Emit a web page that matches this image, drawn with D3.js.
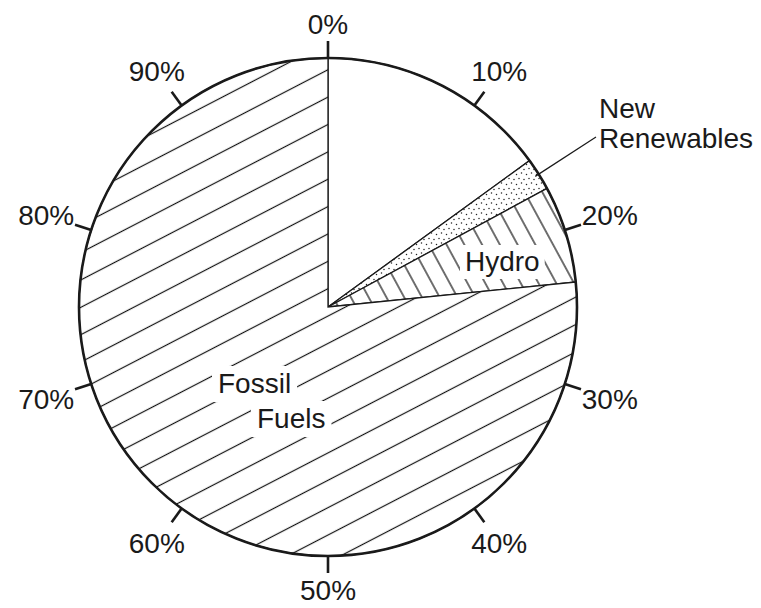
<!DOCTYPE html>
<html>
<head>
<meta charset="utf-8">
<script src="https://cdn.jsdelivr.net/npm/d3@7"></script>
<style>
  body { margin: 0; background: #fff; }
  text { font-family: "Liberation Sans", Arial, sans-serif; fill: #1a1a1a; }
</style>
</head>
<body>
<script>
// data (percent of total)
const categories = ["", "New Renewables", "Hydro", "Fossil Fuels"];
const shares = [15.0, 2.1, 6.3, 76.6];
const tickValues = [0, 10, 20, 30, 40, 50, 60, 70, 80, 90];
const tickLabels = ["0%", "10%", "20%", "30%", "40%", "50%", "60%", "70%", "80%", "90%"];

const W = 761, H = 608;
const cx = 328, cy = 307, r = 249;
const FS = 28;

const svg = d3.select("body").append("svg")
              .attr("width", W)
              .attr("height", H)

const defs = svg.append("defs")

// fossil hatch, rising lines
const fs = 24.3;
const fp = defs.append("pattern")
      .attr("id", "hatchFossil")
      .attr("patternUnits", "userSpaceOnUse")
      .attr("width", 20).attr("height", fs)
      .attr("patternTransform", `translate(${cx},${cy - r}) rotate(-27.4) translate(0,${-fs / 2})`)
fp.append("rect").attr("width", 20).attr("height", fs).attr("fill", "#fff")
fp.append("line").attr("x1", 0).attr("x2", 20).attr("y1", fs / 2).attr("y2", fs / 2)
  .attr("stroke", "#111").attr("stroke-width", 1.2)

// hydro hatch, steep falling lines
const hs = 15.6;
const hp = defs.append("pattern")
      .attr("id", "hatchHydro")
      .attr("patternUnits", "userSpaceOnUse")
      .attr("width", 20).attr("height", hs)
      .attr("patternTransform", `translate(${cx},${cy}) rotate(61.5)`)
hp.append("rect").attr("width", 20).attr("height", hs).attr("fill", "#fff")
hp.append("line").attr("x1", 0).attr("x2", 20).attr("y1", hs / 2).attr("y2", hs / 2)
  .attr("stroke", "#111").attr("stroke-width", 1.2)

// stipple for new renewables
const sp = defs.append("pattern")
      .attr("id", "stipple")
      .attr("patternUnits", "userSpaceOnUse")
      .attr("width", 10).attr("height", 10)
sp.append("rect").attr("width", 10).attr("height", 10).attr("fill", "#fff")
const dots = [[1, 1.5], [6, 2.5], [3.5, 6], [8.5, 7.5]];
sp.selectAll("circle").data(dots).enter().append("circle")
  .attr("cx", d => d[0]).attr("cy", d => d[1]).attr("r", 0.75).attr("fill", "#222")

const fills = ["#fff", "url(#stipple)", "url(#hatchHydro)", "url(#hatchFossil)"];

const g = svg.append("g").attr("transform", `translate(${cx},${cy})`)

const pie = d3.pie().sort(null).value(d => d)
const arc = d3.arc().innerRadius(0).outerRadius(r)
const arcs = pie(shares)

g.selectAll("path.slice")
 .data(arcs)
 .enter()
 .append("path")
 .attr("class", "slice")
 .attr("d", arc)
 .attr("fill", (d, i) => fills[i])
 .attr("stroke", "#1a1a1a")
 .attr("stroke-width", 1.3)
 .attr("stroke-linejoin", "miter")

// outer circle
g.append("circle").attr("r", r).attr("fill", "none").attr("stroke", "#1a1a1a").attr("stroke-width", 2.6)

// ticks around the rim
const tickLen = 17;
const ang = d3.scaleLinear().domain([0, 100]).range([0, 2 * Math.PI])
g.selectAll("line.tick")
 .data(tickValues)
 .enter()
 .append("line")
 .attr("x1", d => r * Math.sin(ang(d)))
 .attr("y1", d => -r * Math.cos(ang(d)))
 .attr("x2", d => (r + tickLen) * Math.sin(ang(d)))
 .attr("y2", d => -(r + tickLen) * Math.cos(ang(d)))
 .attr("stroke", "#1a1a1a")
 .attr("stroke-width", 2.6)

g.selectAll("text.tl")
 .data(tickValues)
 .enter()
 .append("text")
 .attr("class", "tl")
 .attr("font-size", FS)
 .attr("text-anchor", "middle")
 .attr("x", d => (283 + 14 * Math.abs(Math.sin(ang(d)))) * Math.sin(ang(d)))
 .attr("y", d => -(283 + 14 * Math.abs(Math.sin(ang(d)))) * Math.cos(ang(d)) + 10)
 .text((d, i) => tickLabels[i])

// labels with white knockouts
function knockLabel(lines, pad) {
  const t = svg.append("g")
  const texts = lines.map(l => t.append("text")
      .attr("x", l.x).attr("y", l.y).attr("font-size", FS).text(l.s))
  texts.forEach(tx => {
    const b = tx.node().getBBox();
    t.insert("rect", "text")
     .attr("x", b.x - pad).attr("y", b.y - pad + 4)
     .attr("width", b.width + 2 * pad).attr("height", b.height + 2 * pad - 7)
     .attr("fill", "#fff")
  })
}

knockLabel([{ s: categories[2], x: 465, y: 271 }], 5)
knockLabel([{ s: "Fossil", x: 218, y: 393 }, { s: "Fuels", x: 257, y: 428 }], 6)

// new renewables callout
const nr = arcs[1];
const mid = (nr.startAngle + nr.endAngle) / 2;
svg.append("line")
   .attr("x1", cx + (r - 4) * Math.sin(mid)).attr("y1", cy - (r - 4) * Math.cos(mid))
   .attr("x2", 596).attr("y2", 137)
   .attr("stroke", "#1a1a1a").attr("stroke-width", 1.2)

const nrText = svg.append("text").attr("font-size", FS)
nrText.append("tspan").attr("x", 599).attr("y", 118).text("New")
nrText.append("tspan").attr("x", 599).attr("y", 148).text("Renewables")
</script>
</body>
</html>
